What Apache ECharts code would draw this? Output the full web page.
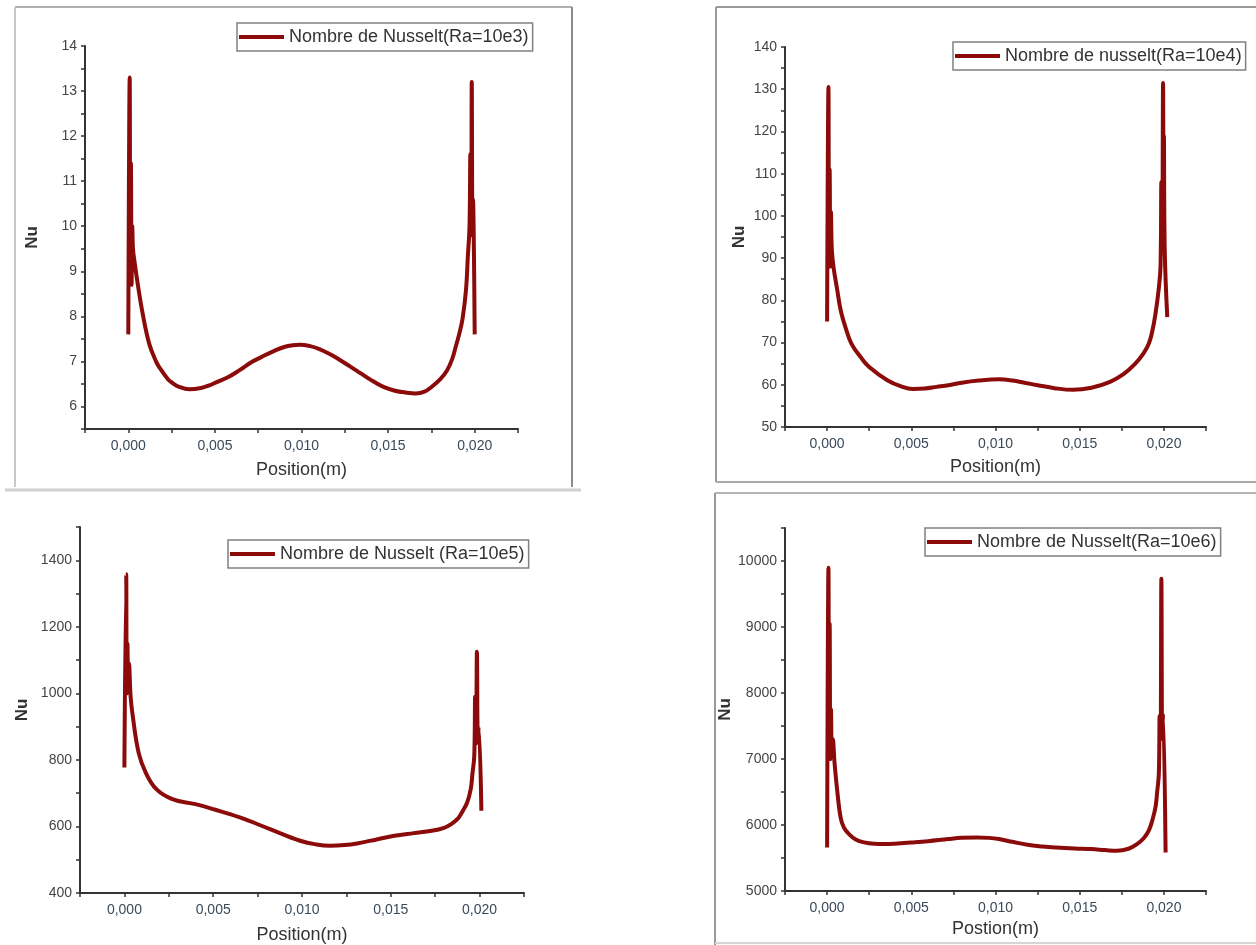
<!DOCTYPE html>
<html>
<head>
<meta charset="utf-8">
<script src="https://cdn.jsdelivr.net/npm/echarts@6/dist/echarts.min.js"></script>
<style>
html,body{margin:0;padding:0;background:#fff;}
#chart{width:1256px;height:945px;}
</style>
</head>
<body>
<div id="chart"></div>
<script>
// ---------- DATA ----------
const xTickLabels = ['0,000','0,005','0,010','0,015','0,020'];
const legendNames = ['Nombre de Nusselt(Ra=10e3)','Nombre de nusselt(Ra=10e4)','Nombre de Nusselt (Ra=10e5)','Nombre de Nusselt(Ra=10e6)'];
const xNames = ['Position(m)','Position(m)','Position(m)','Postion(m)'];

// Ra = 10e3
const pos1 = [0, 0.00008, 0.00011, 0.00015, 0.00019, 0.00023, 0.00027, 0.00035, 0.00054, 0.00083, 0.00121, 0.0016, 0.00179, 0.0023, 0.00256, 0.0029, 0.00353, 0.0042, 0.00468, 0.0051, 0.0058, 0.0064, 0.0071, 0.0077, 0.0084, 0.009, 0.0095, 0.0099, 0.0105, 0.011, 0.0116, 0.0121, 0.0128, 0.0134, 0.014, 0.0147, 0.0154, 0.016, 0.0166, 0.0171, 0.0175, 0.018, 0.0184, 0.0187, 0.0189, 0.0191, 0.0193, 0.0195, 0.0196, 0.0197, 0.01975, 0.0198, 0.01983, 0.01987, 0.0199, 0.01995, 0.02];
const nu1 = [7.6, 13.3, 9.3, 11.4, 8.7, 10.0, 9.5, 9.24, 8.73, 8.06, 7.39, 7.0, 6.87, 6.6, 6.52, 6.44, 6.38, 6.41, 6.47, 6.54, 6.66, 6.8, 6.98, 7.1, 7.23, 7.32, 7.36, 7.37, 7.34, 7.28, 7.17, 7.06, 6.89, 6.74, 6.59, 6.44, 6.35, 6.31, 6.29, 6.33, 6.43, 6.6, 6.8, 7.05, 7.32, 7.6, 7.95, 8.6, 9.3, 10.0, 11.6, 9.8, 13.2, 10.0, 10.6, 9.6, 7.6];

// Ra = 10e4
const pos2 = [0, 0.00008, 0.00011, 0.00015, 0.00019, 0.00023, 0.00028, 0.00038, 0.0006, 0.00081, 0.0011, 0.00145, 0.002, 0.0025, 0.0036, 0.0044, 0.0051, 0.0058, 0.0065, 0.0072, 0.008, 0.009, 0.0102, 0.011, 0.0118, 0.0125, 0.0135, 0.0146, 0.0157, 0.0168, 0.0176, 0.0183, 0.0188, 0.0191, 0.0193, 0.0195, 0.0197, 0.0198, 0.01985, 0.0199, 0.01995, 0.01998, 0.02, 0.02005, 0.0202];
const nu2 = [75, 130.5, 95, 111, 88, 101, 92, 87.9, 82.5, 77.6, 73.5, 69.7, 66.5, 64.2, 61, 59.6, 59.0, 59.1, 59.5, 59.9, 60.5, 61.0, 61.3, 61.0, 60.4, 59.9, 59.2, 58.8, 59.3, 60.7, 62.5, 65, 67.5, 69.7, 72.5, 76.8, 83, 88, 108, 93, 131.5, 100, 119, 92, 76];

// Ra = 10e5
const pos3 = [0, 0.0001, 0.00013, 0.00017, 0.00021, 0.00026, 0.00035, 0.00047, 0.0008, 0.0012, 0.0018, 0.0027, 0.004, 0.005, 0.0065, 0.0082, 0.0099, 0.0108, 0.0116, 0.0124, 0.0131, 0.0142, 0.0152, 0.0163, 0.0173, 0.018, 0.0184, 0.0188, 0.019, 0.0193, 0.0195, 0.0196, 0.0197, 0.01975, 0.0198, 0.01985, 0.0199, 0.01995, 0.0201];
const nu3 = [777, 1358, 1000, 1150, 1010, 1090, 990, 932, 822, 762, 712, 682, 667, 652, 627, 592, 557, 546, 542, 544, 549, 561, 572, 580, 587, 596, 607, 625, 642, 672, 712, 760, 812, 990, 850, 1125, 870, 900, 647];

// Ra = 10e6
const pos4 = [0, 0.00008, 0.00011, 0.00015, 0.00019, 0.00023, 0.00028, 0.00034, 0.00044, 0.0006, 0.0008, 0.001, 0.0013, 0.0017, 0.0022, 0.0028, 0.0034, 0.0042, 0.0051, 0.006, 0.0072, 0.008, 0.0089, 0.0096, 0.0102, 0.011, 0.0119, 0.0128, 0.0136, 0.0147, 0.0157, 0.0165, 0.0172, 0.0179, 0.0184, 0.0188, 0.0191, 0.0193, 0.0195, 0.0196, 0.0197, 0.01975, 0.0198, 0.01985, 0.0199, 0.01995, 0.0201];
const nu4 = [5660, 9898, 7400, 9050, 7000, 7750, 7100, 7300, 6950, 6523, 6117, 5960, 5863, 5780, 5736, 5715, 5711, 5720, 5736, 5755, 5787, 5805, 5812, 5805, 5787, 5745, 5700, 5675, 5660, 5645, 5635, 5620, 5609, 5640, 5711, 5800, 5914, 6060, 6269, 6500, 6777, 7650, 7300, 9731, 7350, 7700, 5584];

// y axis ranges / ticks
const yMin = [5.5, 50, 400, 5000];
const yMax = [14, 140, 1500, 10500];
const yStep = [0.5, 5, 100, 500];      // tick spacing
const yLabelStep = [1, 10, 200, 1000]; // labelled ticks

// ---------- LAYOUT ----------
const FONT = "'Liberation Sans', Arial, sans-serif";
const RED = '#8b0a0a';
const grids = [
  {left: 85, top: 46, width: 433, height: 383},
  {left: 785, top: 47, width: 421, height: 380},
  {left: 80, top: 527, width: 444, height: 366},
  {left: 785, top: 528, width: 421, height: 363}
];
const xNameGap = [32, 31, 33, 29];
const yNameGap = [44, 37, 49, 46];
const legendPos = [
  {left: 237, top: 23}, {left: 953, top: 42}, {left: 228, top: 540}, {left: 925, top: 528}
];
const series = [[pos1, nu1], [pos2, nu2], [pos3, nu3], [pos4, nu4]];

function xLabel(v) {
  const k = Math.round(v / 0.005);
  if (Math.abs(v - k * 0.005) > 1e-9 || k < 0 || k > 4) return '';
  return xTickLabels[k];
}

const option = {
  animation: false,
  backgroundColor: '#fff',
  grid: grids,
  xAxis: grids.map((g, i) => ({
    type: 'value', gridIndex: i,
    min: -0.0025, max: 0.0225, interval: 0.0025,
    name: xNames[i], nameLocation: 'middle', nameGap: xNameGap[i],
    nameTextStyle: {fontFamily: FONT, fontSize: 18, color: '#333'},
    axisLine: {show: true, onZero: false, lineStyle: {color: '#333', width: 2}},
    axisTick: {show: true, length: 4, lineStyle: {color: '#333', width: 1.5}},
    splitLine: {show: false},
    axisLabel: {fontFamily: FONT, fontSize: 14, color: '#3a4a5a', margin: 10, formatter: xLabel}
  })),
  yAxis: grids.map((g, i) => ({
    type: 'value', gridIndex: i,
    min: yMin[i], max: yMax[i], interval: yStep[i],
    name: 'Nu', nameLocation: 'middle', nameGap: yNameGap[i],
    nameTextStyle: {fontFamily: FONT, fontSize: 17, fontWeight: 'bold', color: '#333'},
    axisLine: {show: true, onZero: false, lineStyle: {color: '#333', width: 2}},
    axisTick: {show: true, length: 4, lineStyle: {color: '#333', width: 1.5}},
    splitLine: {show: false},
    axisLabel: {
      fontFamily: FONT, fontSize: 14, color: '#444', margin: 8,
      formatter: function (v) {
        const r = v / yLabelStep[i];
        return Math.abs(r - Math.round(r)) < 1e-6 ? String(Math.round(v * 10) / 10) : '';
      }
    }
  })),
  legend: legendPos.map((p, i) => ({
    data: [{name: legendNames[i], icon: 'rect'}],
    left: p.left, top: p.top, orient: 'horizontal',
    itemWidth: 45, itemHeight: 4, itemGap: 0,
    padding: [5, 4, 5, 2],
    backgroundColor: '#fff',
    borderColor: '#808080', borderWidth: 1.5,
    textStyle: {fontFamily: FONT, fontSize: 18, color: '#333'},
    selectedMode: false
  })),
  series: series.map((s, i) => ({
    name: legendNames[i], type: 'line',
    xAxisIndex: i, yAxisIndex: i,
    showSymbol: false, symbol: 'none',
    smooth: 0.4,
    lineStyle: {color: RED, width: 4},
    itemStyle: {color: RED},
    data: s[0].map((x, j) => [x, s[1][j]])
  })),
  graphic: [
    // panel 1 frame
    {type: 'line', shape: {x1: 15, y1: 7, x2: 572, y2: 7}, style: {stroke: '#b0b0b0', lineWidth: 2}},
    {type: 'line', shape: {x1: 15, y1: 7, x2: 15, y2: 487}, style: {stroke: '#c8c8c8', lineWidth: 2}},
    {type: 'line', shape: {x1: 572, y1: 7, x2: 572, y2: 487}, style: {stroke: '#8a8a8a', lineWidth: 2}},
    {type: 'line', shape: {x1: 5, y1: 490, x2: 581, y2: 490}, style: {stroke: '#d0d0d0', lineWidth: 3}},
    // panel 2 frame
    {type: 'line', shape: {x1: 716, y1: 7, x2: 1256, y2: 7}, style: {stroke: '#999', lineWidth: 2}},
    {type: 'line', shape: {x1: 716, y1: 7, x2: 716, y2: 482}, style: {stroke: '#999', lineWidth: 2}},
    {type: 'line', shape: {x1: 716, y1: 482, x2: 1256, y2: 482}, style: {stroke: '#aaa', lineWidth: 2}},
    // panel 4 frame
    {type: 'line', shape: {x1: 715, y1: 493, x2: 1256, y2: 493}, style: {stroke: '#b5b5b5', lineWidth: 2}},
    {type: 'line', shape: {x1: 715, y1: 493, x2: 715, y2: 945}, style: {stroke: '#999', lineWidth: 2}},
    {type: 'line', shape: {x1: 715, y1: 943, x2: 1256, y2: 943}, style: {stroke: '#d5d5d5', lineWidth: 2}}
  ]
};

const chart = echarts.init(document.getElementById('chart'), null, {renderer: 'canvas'});
chart.setOption(option);
</script>
</body>
</html>
